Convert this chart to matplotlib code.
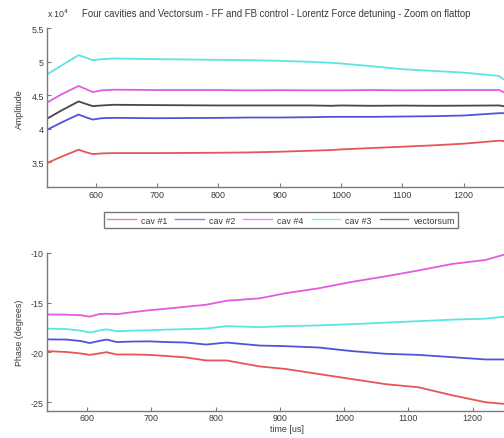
import matplotlib
matplotlib.use("Agg")
import matplotlib.pyplot as plt
from matplotlib.ticker import FuncFormatter, FixedLocator

plt.rcParams['font.family'] = ['Liberation Sans', 'DejaVu Sans']

# ---- amplitude on flattop ----
t_amp = [520, 545, 572, 585, 595, 610, 630, 700, 800, 850, 900, 950,
         985, 1000, 1050, 1100, 1150, 1200, 1258, 1265]
amp_cav1 = [34900, 35900, 36900, 36500, 36250, 36350, 36400, 36400, 36450, 36500,
            36600, 36750, 36850, 36950, 37150, 37350, 37550, 37800, 38250, 38200]
amp_cav2 = [39850, 41000, 42150, 41700, 41400, 41600, 41650, 41600, 41650, 41700,
            41700, 41750, 41800, 41800, 41800, 41850, 41900, 42000, 42350, 42350]
amp_cav4 = [43900, 45200, 46400, 45900, 45500, 45750, 45850, 45800, 45800, 45750,
            45780, 45750, 45760, 45750, 45800, 45750, 45780, 45800, 45800, 45500]
amp_cav3 = [48100, 49500, 51000, 50600, 50250, 50400, 50500, 50400, 50300, 50250,
            50150, 50000, 49850, 49750, 49350, 48900, 48650, 48400, 47900, 47400]
amp_vsum = [41500, 42800, 44100, 43700, 43400, 43500, 43600, 43550, 43500, 43500,
            43500, 43500, 43450, 43500, 43450, 43480, 43450, 43470, 43500, 43400]

# ---- phase on flattop ----
t_ph = [537, 568, 590, 604, 618, 630, 646, 670, 697, 723, 754, 785, 817,
        868, 908, 960, 1012, 1064, 1116, 1168, 1220, 1255]
ph_cav1 = [-19.86, -19.95, -20.1, -20.24, -20.1, -19.97, -20.2, -20.2, -20.24, -20.35,
           -20.5, -20.8, -20.8, -21.4, -21.65, -22.16, -22.67, -23.18, -23.5, -24.3,
           -25.0, -25.2]
ph_cav2 = [-18.68, -18.7, -18.85, -19.05, -18.85, -18.7, -18.95, -18.9, -18.88, -18.95,
           -19.0, -19.2, -19.0, -19.3, -19.36, -19.5, -19.86, -20.13, -20.24, -20.47,
           -20.7, -20.7]
ph_cav4 = [-16.18, -16.2, -16.25, -16.4, -16.15, -16.1, -16.15, -15.95, -15.75, -15.6,
           -15.4, -15.2, -14.8, -14.56, -14.05, -13.55, -12.9, -12.35, -11.75, -11.1,
           -10.7, -10.05]
ph_cav3 = [-17.6, -17.65, -17.8, -18.0, -17.8, -17.67, -17.87, -17.8, -17.77, -17.7,
           -17.65, -17.6, -17.35, -17.45, -17.35, -17.28, -17.15, -17.0, -16.85, -16.7,
           -16.6, -16.35]

labels = ['cav #1', 'cav #2', 'cav #4', 'cav #3', 'vectorsum']
colors = ['#e65656', '#5252d8', '#e25ce2', '#5ce4e4', '#474747']

x_ticks = [600, 700, 800, 900, 1000, 1100, 1200]
amp_ticks = [35000, 40000, 45000, 50000, 55000]
ph_ticks = [-25, -20, -15, -10]

W, H = 504, 439
fig = plt.figure(figsize=(W / 100, H / 100), dpi=100)
fig.patch.set_facecolor('white')

FS = 6.4
TXT = '#3a3a3a'
SPINE = '#7a7a7a'
LW = 1.3


def style(ax):
    for s in ('top', 'right'):
        ax.spines[s].set_visible(False)
    for s in ('left', 'bottom'):
        ax.spines[s].set_color(SPINE)
        ax.spines[s].set_linewidth(1.0)
    ax.tick_params(direction='in', length=3, width=0.8, color=SPINE,
                   labelsize=FS, labelcolor=TXT, pad=2)


def px_axes(left, top, right, bottom):
    return fig.add_axes([left / W, 1 - bottom / H, (right - left) / W, (bottom - top) / H])


# Amplitude panel
ax1 = px_axes(46.7, 29.3, 524.8, 188.3)
amp_series = [amp_cav1, amp_cav2, amp_cav4, amp_cav3, amp_vsum]
lines = []
for y, c, lab in zip(amp_series, colors, labels):
    ln, = ax1.plot(t_amp, y, color=c, lw=LW, label=lab)
    lines.append(ln)
ax1.set_xlim(520, 1300)
ax1.set_ylim(31300, 55000)
ax1.xaxis.set_major_locator(FixedLocator(x_ticks))
ax1.yaxis.set_major_locator(FixedLocator(amp_ticks))
ax1.yaxis.set_major_formatter(FuncFormatter(lambda v, _: f"{v / 1e4:g}"))
style(ax1)
ax1.set_ylabel('Amplitude', fontsize=FS, color=TXT, labelpad=5)
fig.text(47 / W, 1 - 14 / H, r'x 10$^{4}$', fontsize=FS, color=TXT, ha='left', va='center')
fig.text(276 / W, 1 - 14 / H,
         'Four cavities and Vectorsum - FF and FB control - Lorentz Force detuning - Zoom on flattop',
         fontsize=6.9, color=TXT, ha='center', va='center')

# Phase panel
ax2 = px_axes(46.7, 254, 537, 411.7)
ph_series = [ph_cav1, ph_cav2, ph_cav4, ph_cav3]
for y, c in zip(ph_series, colors):
    ax2.plot(t_ph, y, color=c, lw=LW)
ax2.set_xlim(537, 1300)
ax2.set_ylim(-25.85, -10)
ax2.xaxis.set_major_locator(FixedLocator(x_ticks))
ax2.yaxis.set_major_locator(FixedLocator(ph_ticks))
ax2.yaxis.set_major_formatter(FuncFormatter(lambda v, _: f"{v:g}".replace('\u2212', '-')))
style(ax2)
ax2.set_ylabel('Phase (degrees)', fontsize=FS, color=TXT, labelpad=5)
fig.text(287 / W, 1 - 430 / H, 'time [us]', fontsize=FS, color=TXT, ha='center', va='center')

# Shared legend between the panels
leg = fig.legend(lines, labels, ncol=5, loc='center',
                 bbox_to_anchor=(281 / W, 1 - 221 / H), fontsize=FS,
                 frameon=True, fancybox=False, handlelength=3.2,
                 handletextpad=0.6, columnspacing=0.9, borderpad=0.35,
                 labelcolor=TXT)
leg.get_frame().set_edgecolor('#555555')
leg.get_frame().set_linewidth(1.0)
for h in leg.get_lines():
    h.set_alpha(0.7)
    h.set_linewidth(1.0)

fig.savefig('out.png', dpi=100, facecolor='white')
